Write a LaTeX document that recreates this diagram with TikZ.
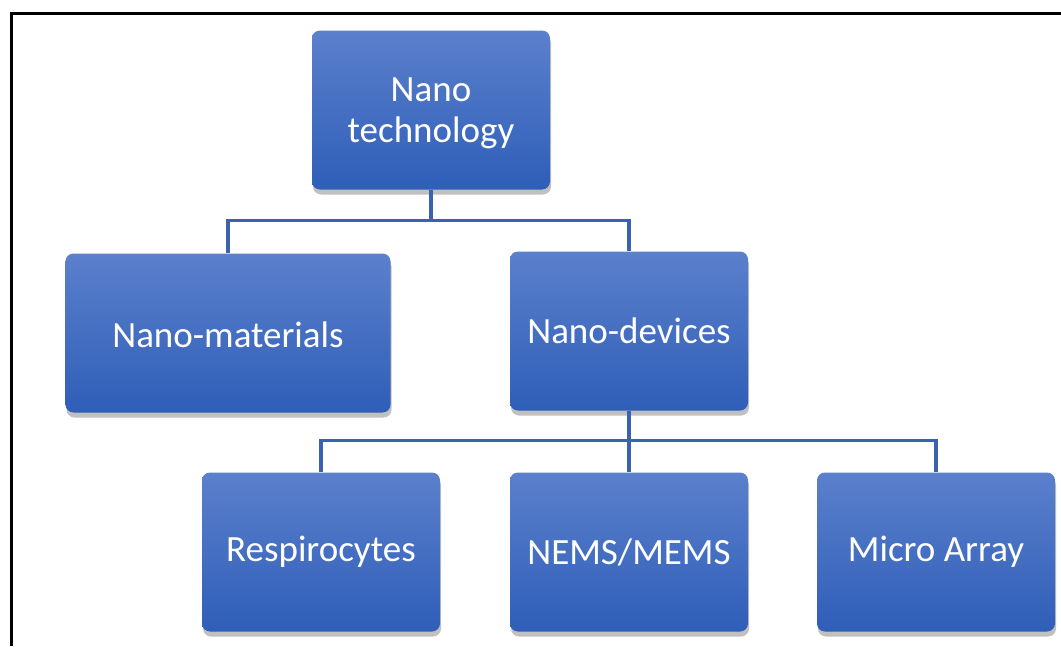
\documentclass[tikz,border=0pt]{standalone}
\usepackage{fontspec}
\setmainfont{Carlito}
\usepackage{xcolor}
\usepackage{tikz}
\usetikzlibrary{shadows}
\definecolor{boxtop}{HTML}{5B80CC}
\definecolor{boxbot}{HTML}{2F5EB8}
\definecolor{wire}{HTML}{3A62B0}
\tikzset{
  box/.style={rounded corners=8pt, top color=boxtop, bottom color=boxbot,
    minimum width=238pt, minimum height=159pt, inner sep=0pt,
    text=white, align=center, font=\fontsize{37}{42}\selectfont,
    drop shadow={shadow xshift=1pt, shadow yshift=-5pt, opacity=0.35, fill=black!70}},
  wide/.style={box, minimum width=325pt},
  conn/.style={draw=wire, line width=3.5pt},
  frame/.style={draw=black, line width=3pt},
}
\begin{document}
\begin{tikzpicture}[x=1pt, y=-1pt]
  \useasboundingbox (0,0) rectangle (1061,646);
  \fill[white] (0,0) rectangle (1061,646);
  % outer frame (only left and top edges show)
  \draw[frame] (11,646) -- (11,13) -- (1061,13);
  % boxes
  \node[box]  (tech) at (431,110) {\raisebox{-4pt}[\height][\depth]{\begin{tabular}{@{}c@{}}Nano\\[-1pt]technology\end{tabular}}};
  \node[wide] (mat)  at (228,333) {\raisebox{-2pt}[\height][\depth]{Nano-materials}};
  \node[box]  (dev)  at (629,331) {Nano-devices};
  \node[box]  (resp) at (321,552) {Respirocytes};
  \node[box]  (nems) at (629,552) {NEMS/MEMS};
  \node[box]  (arr)  at (936,552) {Micro Array};
  % connectors
  \draw[conn] (tech.south) -- ++(0,31) -| (mat.north);
  \draw[conn] (tech.south) -- ++(0,31) -| (dev.north);
  \draw[conn] (dev.south) -- ++(0,30) -| (resp.north);
  \draw[conn] (dev.south) -- (nems.north);
  \draw[conn] (dev.south) -- ++(0,30) -| (arr.north);
\end{tikzpicture}
\end{document}
